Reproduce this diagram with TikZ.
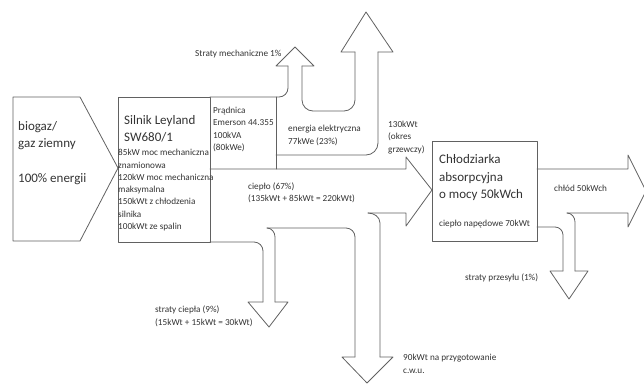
\documentclass[tikz,border=0pt]{standalone}
\usepackage{fontspec}
\setmainfont{Carlito}
\tikzset{
  ln/.style={draw=black!62, line width=0.8pt, line join=round, line cap=round},
  small/.style={font=\fontsize{9.2}{12.3}\selectfont, text=black!80, inner sep=0pt, anchor=base west, align=left},
  big/.style={font=\fontsize{13}{17.5}\selectfont, text=black!80, inner sep=0pt, anchor=base west, align=left},
}
\begin{document}
\begin{tikzpicture}[x=1pt,y=-1pt]
\useasboundingbox (0,0) rectangle (644,383);
\clip (0,0) rectangle (644,383);
% input pentagon
\draw[ln] (13,97) -- (80,97) -- (118,168) -- (80,241) -- (13,241) -- cycle;
% engine box
\draw[ln] (118,97) rectangle (210,242);
% generator right edge
\draw[ln] (276,97) -- (276,169);
% top line and mechanical losses arrow
\draw[ln, rounded corners=9pt] (210,97) -- (288,97) -- (288,66);
\draw[ln] (288,66) -- (276,66) -- (295,47) -- (314,66) -- (302,66);
% electricity arrow
\draw[ln, rounded corners=11pt] (302,66) -- (302,111) -- (355,111) -- (355,52);
\draw[ln] (355,52) -- (341,52) -- (366,12) -- (393,52) -- (378,52);
\draw[ln, rounded corners=12pt] (378,52) -- (378,155) -- (276,155);
% heat arrow
\draw[ln] (210,169) -- (406,169) -- (406,157) -- (432,190) -- (406,226) -- (406,213) -- (368,213);
\draw[ln] (380,357) -- (380,223) to[out=90,in=0] (368,213);
% c.w.u. arrow
\draw[ln] (380,357) -- (393,357) -- (367,383) -- (342,357) -- (355,357);
\draw[ln, rounded corners=9pt] (355,357) -- (355,228) -- (267,228);
\draw[ln] (275,302) -- (275,237) to[out=90,in=0] (267,228);
% heat losses arrow
\draw[ln, rounded corners=9pt] (210,242) -- (263,242) -- (263,302);
\draw[ln] (263,302) -- (248,302) -- (269,327) -- (288,302) -- (275,302);
% chiller box
\draw[ln] (432,141) rectangle (537,241);
% cold arrow
\draw[ln] (537,169) -- (628,169) -- (628,155) -- (646,191) -- (628,227) -- (628,213) -- (567,213);
\draw[ln] (575,271) -- (575,222) to[out=90,in=0] (567,213);
% transmission losses arrow
\draw[ln, rounded corners=8pt] (537,227) -- (563,227) -- (563,271);
\draw[ln] (563,271) -- (550,271) -- (569,299) -- (588,271) -- (575,271);
% texts (base anchor = baseline of the last line)
\node[big] (bio) at (18,182.5) {biogaz/\\gaz ziemny\\[17.5pt]100\% energii};
\node[big] (silnik) at (124,141.5) {Silnik Leyland\\SW680/1};
\node[small] (silnikd) at (118,229.5) {85kW moc mechaniczna\\znamionowa\\120kW moc mechaniczna\\maksymalna\\150kWt z chłodzenia\\silnika\\100kWt ze spalin};
\node[small] (prad) at (213,150.5) {Prądnica\\Emerson 44.355\\100kVA\\(80kWe)};
\node[small] (mech) at (195,56) {Straty mechaniczne 1\%};
\node[small] (ee) at (288,144) {energia elektryczna\\77kWe (23\%)};
\node[small] (okres) at (388,152) {130kWt\\(okres\\grzewczy)};
\node[small] (cieplo) at (248,201.5) {ciepło (67\%)\\(135kWt + 85kWt = 220kWt)};
\node[small] (strc) at (155,325) {straty ciepła (9\%)\\(15kWt + 15kWt = 30kWt)};
\node[small] (cwu) at (403,373) {90kWt na przygotowanie\\c.w.u.};
\node[small] (strp) at (465,280) {straty przesyłu (1\%)};
\node[small] (napd) at (439,226) {ciepło napędowe 70kWt};
\node[small] (chlod) at (554,191) {chłód 50kWch};
\node[big] (chl) at (439,198.5) {Chłodziarka\\absorpcyjna\\o mocy 50kWch};
\end{tikzpicture}
\end{document}
